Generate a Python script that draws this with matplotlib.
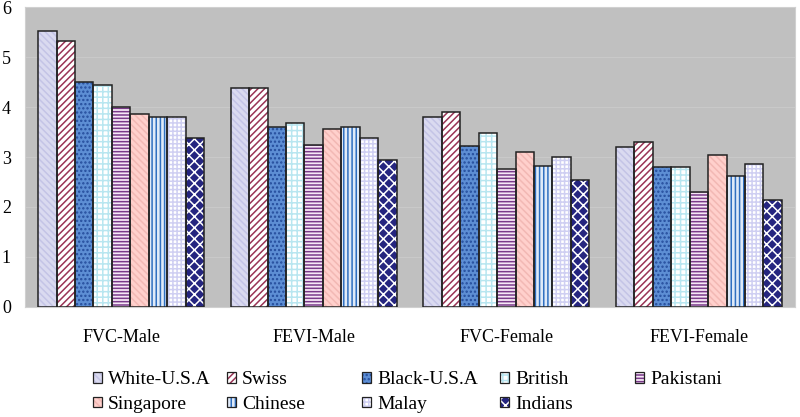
import matplotlib
matplotlib.use("Agg")
import matplotlib.pyplot as plt
import numpy as np
from matplotlib.patches import Patch
from matplotlib.legend_handler import HandlerTuple

categories = ["FVC-Male", "FEVI-Male", "FVC-Female", "FEVI-Female"]
series_names = ["White-U.S.A", "Swiss", "Black-U.S.A", "British", "Pakistani",
                "Singapore", "Chinese", "Malay", "Indians"]
white_usa = [5.52, 4.39, 3.81, 3.21]
swiss = [5.32, 4.39, 3.91, 3.31]
black_usa = [4.50, 3.61, 3.22, 2.80]
british = [4.45, 3.69, 3.48, 2.80]
pakistani = [4.00, 3.24, 2.76, 2.30]
singapore = [3.87, 3.56, 3.11, 3.04]
chinese = [3.81, 3.61, 2.81, 2.62]
malay = [3.81, 3.39, 3.01, 2.86]
indians = [3.38, 2.94, 2.54, 2.14]
yticks = [0, 1, 2, 3, 4, 5, 6]

series_values = [white_usa, swiss, black_usa, british, pakistani,
                 singapore, chinese, malay, indians]

# (facecolor, hatch, hatchcolor)
styles = [
    ("#dadaf0", "\\\\\\\\\\", "#c4c4e6"),
    ("#ffffff", "/////", "#993355"),
    ("#5d8ed4", "....", "#254d9c"),
    ("#ffffff", "+++", "#b8e6f0"),
    ("#f6e8f6", "-----", "#7a3a8a"),
    ("#ffd0cc", "\\\\\\\\\\", "#f2b8b4"),
    ("#dfeaf8", "||||", "#2f6fc0"),
    ("#ffffff", "++++", "#cfcff2"),
    ("#25257f", "xxx", "#ffffff"),
]

plt.rcParams['font.family'] = ['Liberation Serif', 'DejaVu Serif']
plt.rcParams['hatch.linewidth'] = 1.1

fig = plt.figure(figsize=(8.0, 4.17), dpi=100)
ax = fig.add_axes([0.031, 0.264, 0.963, 0.719])
ax.set_facecolor("#c0c0c0")

x = np.arange(len(categories))
n = len(series_names)
bw = 0.0958
handles = []
for i, (vals, (fc, hatch, hc)) in enumerate(zip(series_values, styles)):
    pos = x + (i - (n - 1) / 2) * bw
    ax.bar(pos, vals, bw, color=fc, hatch=hatch, edgecolor=hc, linewidth=0, zorder=2)
    ax.bar(pos, vals, bw, fill=False, edgecolor="#222222", linewidth=1.1, zorder=3)
    h1 = Patch(facecolor=fc, hatch=hatch, edgecolor=hc, linewidth=0)
    h2 = Patch(fill=False, edgecolor="#222222", linewidth=0.9)
    handles.append((h1, h2))

ax.set_xlim(-0.5, 3.5)
ax.set_ylim(0, 6)
ax.set_yticks(yticks)
ax.set_xticks(x)
ax.set_xticklabels(categories)
ax.yaxis.grid(True, color="#c9c9c9", linewidth=0.8, zorder=0)
ax.set_axisbelow(True)
ax.tick_params(axis='both', length=0, labelsize=13)
ax.tick_params(axis='x', pad=16)
ax.tick_params(axis='y', pad=10)
for s in ax.spines.values():
    s.set_color("#d0d0d0")
    s.set_linewidth(0.8)

# legend laid out in fixed-width columns, row-major like the original
col_x = [0.116, 0.284, 0.4525, 0.625, 0.794]
columns = [[0, 5], [1, 6], [2, 7], [3, 8], [4]]
for cx, idxs in zip(col_x, columns):
    lg = fig.legend([handles[k] for k in idxs], [series_names[k] for k in idxs],
                    handler_map={tuple: HandlerTuple(ndivide=1)},
                    loc="upper left", bbox_to_anchor=(cx, 0.11), ncol=1,
                    frameon=False, fontsize=14, handlelength=0.47, handleheight=0.47,
                    handletextpad=0.3, labelspacing=0.4,
                    borderaxespad=0, borderpad=0)

fig.savefig("out.png", dpi=100)
